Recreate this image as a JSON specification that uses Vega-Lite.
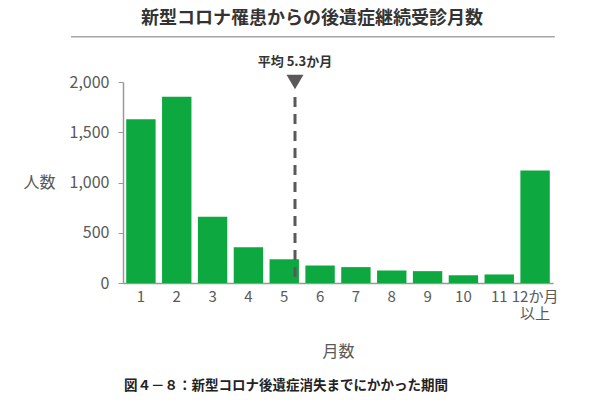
{
  "$schema": "https://vega.github.io/schema/vega-lite/v6.json",
  "autosize": "none",
  "width": 430,
  "height": 201,
  "padding": {"left": 123, "top": 82, "right": 47, "bottom": 117},
  "background": "white",
  "title": {
    "text": "新型コロナ罹患からの後遺症継続受診月数",
    "font": "Noto Sans CJK JP",
    "fontSize": 18,
    "fontWeight": "bold",
    "color": "#333333",
    "anchor": "middle",
    "frame": "group",
    "dx": -26,
    "offset": 8
  },
  "datasets": {
    "months": [
      {"month": "1", "count": 1630},
      {"month": "2", "count": 1852},
      {"month": "3", "count": 660},
      {"month": "4", "count": 355},
      {"month": "5", "count": 236},
      {"month": "6", "count": 174},
      {"month": "7", "count": 158},
      {"month": "8", "count": 125},
      {"month": "9", "count": 118},
      {"month": "10", "count": 77},
      {"month": "11", "count": 85},
      {"month": "12か月以上", "count": 1120}
    ],
    "mean": [{"mean": 5.3, "label": "平均 5.3か月"}]
  },
  "layer": [
    {
      "data": {"name": "months"},
      "mark": {"type": "bar", "color": "#0DA83F"},
      "encoding": {
        "x": {
          "field": "month",
          "type": "ordinal",
          "sort": null,
          "scale": {"paddingInner": 0.18, "paddingOuter": 0.09},
          "axis": {
            "title": "月数",
            "labelAngle": 0,
            "ticks": false,
            "labelPadding": 6,
            "labelExpr": "datum.value == '12か月以上' ? ['12か月', '以上'] : datum.label",
            "labelLineHeight": 17,
            "titlePadding": 22
          }
        },
        "y": {
          "field": "count",
          "type": "quantitative",
          "scale": {"domain": [0, 2000]},
          "axis": {
            "title": "人数",
            "values": [0, 500, 1000, 1500, 2000],
            "labelExpr": "format(datum.value, ',')",
            "grid": false,
            "tickSize": 5,
            "labelPadding": 9,
            "labelFontSize": 16,
            "titleAngle": 0,
            "titleAlign": "center",
            "titleBaseline": "middle",
            "titleX": -84,
            "titleY": 100
          }
        }
      }
    },
    {
      "layer": [
        {
          "data": {"name": "mean"},
          "mark": {"type": "rule", "color": "#595959", "strokeWidth": 3, "strokeDash": [10, 7]},
          "encoding": {
            "x": {"field": "mean", "type": "quantitative", "scale": {"domain": [0.5, 12.5], "zero": false, "nice": false}, "axis": null},
            "y": {"datum": 1850, "type": "quantitative"},
            "y2": {"datum": 0}
          }
        },
        {
          "data": {"name": "mean"},
          "mark": {"type": "point", "shape": "triangle-down", "size": 289, "filled": true, "color": "#595959", "opacity": 1},
          "encoding": {
            "x": {"field": "mean", "type": "quantitative"},
            "y": {"datum": 2000, "type": "quantitative"}
          }
        },
        {
          "data": {"name": "mean"},
          "mark": {"type": "text", "font": "Noto Sans CJK JP", "fontSize": 13, "fontWeight": "bold", "color": "#333333", "baseline": "middle"},
          "encoding": {
            "x": {"field": "mean", "type": "quantitative"},
            "y": {"datum": 2200, "type": "quantitative"},
            "text": {"field": "label"}
          }
        },
        {
          "data": {"values": [{}]},
          "mark": {"type": "rule", "color": "#a6a6a6", "strokeWidth": 1.5},
          "encoding": {
            "x": {"datum": -0.95, "type": "quantitative"},
            "x2": {"datum": 12.55},
            "y": {"datum": 2450, "type": "quantitative"}
          }
        },
        {
          "data": {"values": [{"caption": "図４－８：新型コロナ後遺症消失までにかかった期間"}]},
          "mark": {"type": "text", "font": "Noto Sans CJK JP", "fontSize": 13.5, "fontWeight": "bold", "color": "#222222", "baseline": "middle"},
          "encoding": {
            "x": {"datum": 5.05, "type": "quantitative"},
            "y": {"datum": -1025, "type": "quantitative"},
            "text": {"field": "caption"}
          }
        }
      ]
    }
  ],
  "resolve": {"scale": {"x": "independent"}},
  "config": {
    "view": {"stroke": null},
    "axis": {
      "labelFont": "Noto Sans CJK JP",
      "titleFont": "Noto Sans CJK JP",
      "labelFontSize": 15,
      "titleFontSize": 16,
      "titleFontWeight": "normal",
      "labelColor": "#595959",
      "titleColor": "#595959",
      "domainColor": "#999999",
      "tickColor": "#999999",
      "domainWidth": 1.5
    }
  }
}
